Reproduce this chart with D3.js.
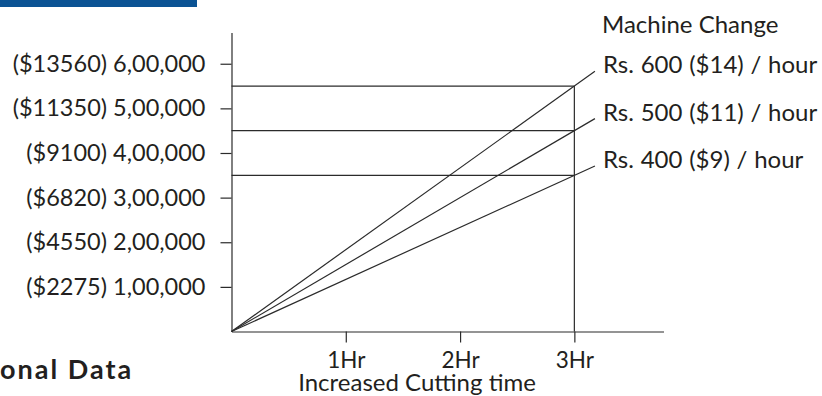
<!DOCTYPE html>
<html>
<head>
<meta charset="utf-8">
<script src="https://cdn.jsdelivr.net/npm/d3@7"></script>
<style>
  html, body { margin: 0; padding: 0; background: #fff; }
  svg { display: block; font-family: Lato, 'Open Sans', sans-serif; }
</style>
</head>
<body>
<div id="chart"></div>
<script>
// y axis: rupee values with dollar equivalents
const yValues = [100000, 200000, 300000, 400000, 500000, 600000];
const yRupeeLabels = ['1,00,000', '2,00,000', '3,00,000', '4,00,000', '5,00,000', '6,00,000'];
const yDollarLabels = ['$2275', '$4550', '$6820', '$9100', '$11350', '$13560'];

// x axis
const xHours = [1, 2, 3];
const xLabels = ['1Hr', '2Hr', '3Hr'];

// machine charge series (cost at 0 and 3 hours)
const seriesNames = ['Rs. 600 ($14) / hour', 'Rs. 500 ($11) / hour', 'Rs. 400 ($9) / hour'];
const seriesHours = [0, 3];
const seriesCost = [
  [0, 550000],
  [0, 450000],
  [0, 350000]
];

const W = 822, H = 396;
const ink = '#231f20';
const lineCol = '#2b2b2b';

const svg = d3.select('#chart').append('svg')
  .attr('width', W).attr('height', H);

// blue header bar (cropped from page)
svg.append('rect')
  .attr('x', 0).attr('y', 0).attr('width', 197).attr('height', 7)
  .attr('fill', '#0b5394');

const x = d3.scaleLinear().domain([0, 3.78]).range([231.5, 663.5]);
const y = d3.scaleLinear().domain([0, 670000]).range([331.5, 32.5]);

// horizontal reference lines + vertical at 3Hr
const tEnd = seriesHours[seriesHours.length - 1];
svg.append('g').selectAll('line')
  .data(seriesCost).enter().append('line')
  .attr('x1', x(0)).attr('x2', x(tEnd))
  .attr('y1', d => y(d[1])).attr('y2', d => y(d[1]))
  .attr('stroke', lineCol).attr('stroke-width', 1.2);

svg.append('line')
  .attr('x1', x(tEnd)).attr('x2', x(tEnd))
  .attr('y1', y(0)).attr('y2', y(d3.max(seriesCost, d => d[1])))
  .attr('stroke', lineCol).attr('stroke-width', 1.2);

// diagonal lines, extended a little past 3Hr toward labels
const leaderEnd = 3.18;
svg.append('g').selectAll('line')
  .data(seriesCost).enter().append('line')
  .attr('x1', x(0)).attr('y1', y(0))
  .attr('x2', x(leaderEnd))
  .attr('y2', d => y(d[1] / tEnd * leaderEnd))
  .attr('stroke', lineCol).attr('stroke-width', 1.2);

// axes
const yAxis = svg.append('g')
  .attr('transform', `translate(${x(0)},0)`)
  .call(d3.axisLeft(y).tickValues(yValues).tickSize(11).tickSizeOuter(0).tickPadding(15)
    .tickFormat((d, i) => `(${yDollarLabels[i]}) ${yRupeeLabels[i]}`));
yAxis.selectAll('line, path').attr('stroke', lineCol).attr('stroke-width', 1.2);
yAxis.selectAll('text')
  .attr('fill', ink).attr('font-size', '23.5px')
  .attr('font-family', 'Lato, sans-serif');

const xAxis = svg.append('g')
  .attr('transform', `translate(0,${y(0)})`)
  .call(d3.axisBottom(x).tickValues(xHours).tickSize(11).tickSizeOuter(0)
    .tickFormat((d, i) => xLabels[i]));
xAxis.selectAll('line, path').attr('stroke', lineCol).attr('stroke-width', 1.2);
xAxis.selectAll('text')
  .attr('fill', ink).attr('font-size', '22.5px')
  .attr('font-family', 'Lato, sans-serif')
  .attr('y', 36.5).attr('dy', 0);

// axis title
svg.append('text')
  .attr('x', 417).attr('y', 390.5)
  .attr('text-anchor', 'middle')
  .attr('fill', ink).attr('font-size', '24px')
  .text('Increased Cutting time');

// legend
svg.append('text')
  .attr('x', 602).attr('y', 33)
  .attr('fill', ink).attr('font-size', '24px')
  .text('Machine Change');

svg.append('g').selectAll('text')
  .data(seriesNames).enter().append('text')
  .attr('x', 603)
  .attr('y', (d, i) => y(seriesCost[i][1] / tEnd * leaderEnd) + 2)
  .attr('fill', ink).attr('font-size', '24px')
  .attr('word-spacing', '0.6px')
  .text(d => d);

// section heading at bottom left (only its tail is in view)
svg.append('text')
  .attr('x', 0).attr('y', 379)
  .attr('fill', ink).attr('font-size', '27px').attr('font-weight', 'bold')
  .attr('letter-spacing', '2px')
  .text('onal Data');
</script>
</body>
</html>
